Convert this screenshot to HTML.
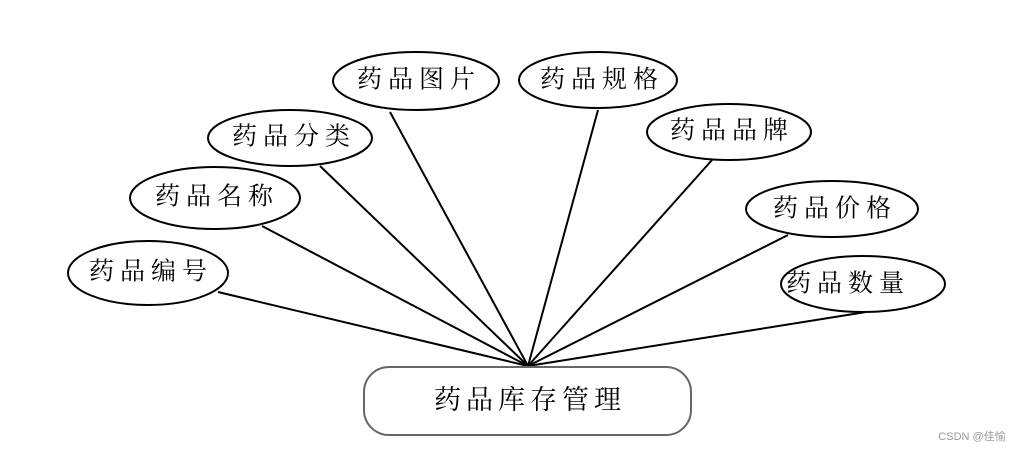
<!DOCTYPE html>
<html><head><meta charset="utf-8"><style>
body{margin:0;background:#fff;width:1023px;height:451px;overflow:hidden}
svg text{font-family:"Liberation Serif","Noto Serif CJK SC",serif;font-size:25px;letter-spacing:6px;text-anchor:middle;dominant-baseline:central;fill:#000}
</style></head><body>
<svg width="1023" height="451" xmlns="http://www.w3.org/2000/svg">
<g stroke="#000" stroke-width="2" fill="none">
<line x1="528" y1="366" x2="218" y2="292"/>
<line x1="528" y1="366" x2="262" y2="226"/>
<line x1="528" y1="366" x2="320" y2="166"/>
<line x1="528" y1="366" x2="390" y2="112"/>
<line x1="528" y1="366" x2="598" y2="110"/>
<line x1="528" y1="366" x2="712" y2="160"/>
<line x1="528" y1="366" x2="788" y2="235"/>
<line x1="528" y1="366" x2="866" y2="312"/>
</g>
<g stroke="#000" stroke-width="2" fill="#fff">
<ellipse cx="148" cy="273" rx="80" ry="32"/>
<ellipse cx="215" cy="198" rx="85" ry="31"/>
<ellipse cx="290" cy="138" rx="82" ry="28"/>
<ellipse cx="416" cy="81" rx="83" ry="29"/>
<ellipse cx="598" cy="80" rx="79" ry="28"/>
<ellipse cx="729" cy="132" rx="82" ry="28"/>
<ellipse cx="832" cy="209" rx="86" ry="28"/>
<ellipse cx="863" cy="284" rx="82" ry="28"/>
</g>
<rect x="364" y="367" width="327" height="68" rx="25" ry="25" fill="#fff" stroke="#666" stroke-width="2"/>
<text x="151" y="272">药品编号</text>
<text x="217" y="197">药品名称</text>
<text x="294" y="137">药品分类</text>
<text x="419" y="80">药品图片</text>
<text x="602" y="80">药品规格</text>
<text x="732" y="131">药品品牌</text>
<text x="835" y="209">药品价格</text>
<text x="848" y="284">药品数量</text>
<text x="530" y="400" style="font-size:27px;letter-spacing:5px">药品库存管理</text>
<text x="972" y="437" style="font-family:'Liberation Sans','Noto Sans CJK SC',sans-serif;font-size:11px;letter-spacing:0;fill:#999">CSDN @佳愉</text>
</svg>
</body></html>
